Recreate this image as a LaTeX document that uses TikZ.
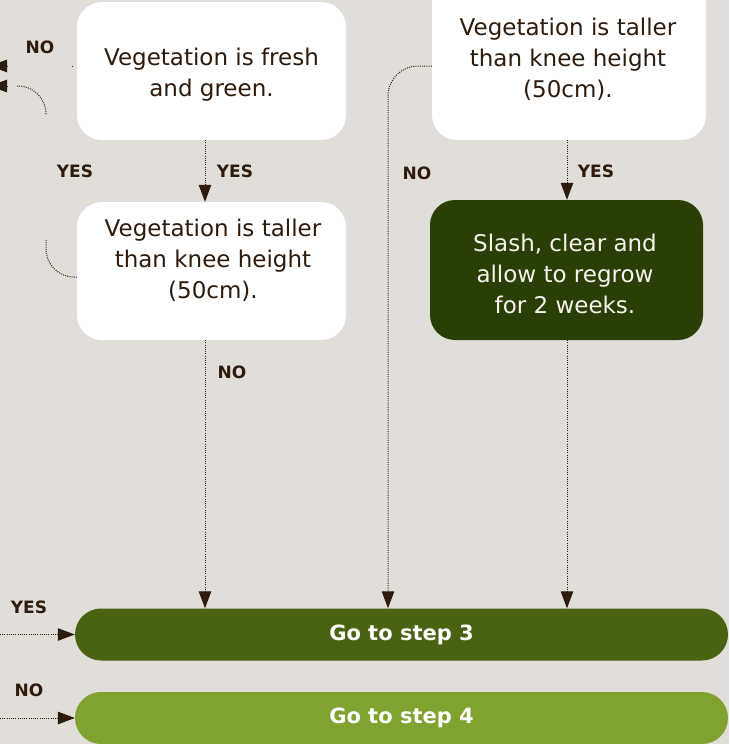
\documentclass[tikz,border=0pt]{standalone}
\usepackage{fontspec}
\setmainfont{DejaVu Sans}
\usetikzlibrary{arrows.meta}
\definecolor{bg}{HTML}{E1DDD9}
\definecolor{ink}{HTML}{2E1B0B}
\definecolor{darkgreen}{HTML}{2A3F05}
\definecolor{stepthree}{HTML}{4A6312}
\definecolor{stepfour}{HTML}{80A22E}
\definecolor{paletext}{HTML}{F4F2EC}
\tikzset{
  box/.style={rectangle, rounded corners=25pt, fill=white, inner sep=0pt},
  darkbox/.style={box, fill=darkgreen},
  boxtext/.style={align=center, text=ink, inner sep=0pt, font=\fontsize{23}{31}\selectfont},
  lbl/.style={text=ink, inner sep=0pt, font=\bfseries\fontsize{17}{17}\selectfont},
  bar/.style={rectangle, rounded corners=26pt, minimum width=653pt, minimum height=52pt, inner sep=0pt, text=white, font=\bfseries\fontsize{21}{21}\selectfont},
  dots/.style={draw=ink, line width=1pt, dash pattern=on 1pt off 1.2pt},
  flow/.style={dots, -{Triangle[width=12.5pt,length=17pt]}},
}
\begin{document}
\begin{tikzpicture}[x=1pt,y=-1pt]
\useasboundingbox (0,0) rectangle (729,744);
\clip (0,0) rectangle (729,744);
\fill[bg] (0,0) rectangle (729,744);

% boxes
\node[box, minimum width=269pt, minimum height=138pt] (boxA) at (211.5,71) {};
\node[boxtext] (txtA) at (211.5,75) {Vegetation is fresh\\and green.};
\node[box, minimum width=269pt, minimum height=138pt] (boxB) at (211.5,271) {};
\node[boxtext] (txtB) at (213,260) {Vegetation is taller\\than knee height\\(50cm).};
\node[box, minimum width=274pt, minimum height=170pt] (boxC) at (569,55) {};
\node[boxtext] (txtC) at (568,59) {Vegetation is taller\\than knee height\\(50cm).};
\node[darkbox, minimum width=273pt, minimum height=140pt] (boxD) at (566.5,270) {};
\node[boxtext, text=paletext] (txtD) at (565,274) {Slash, clear and\\allow to regrow\\for 2 weeks.};

% bars
\node[bar, fill=stepthree] (bar3) at (401.5,634.5) {Go to step 3};
\node[bar, fill=stepfour] (bar4) at (401.5,718) {Go to step 4};

% vertical connectors
\draw[flow] (boxA.south -| 205,0) -- (boxB.north -| 205,0);
\draw[flow] (boxB.south -| 205,0) -- (bar3.north -| 205,0);
\draw[flow] (boxC.south -| 567,0) -- (boxD.north -| 567,0);
\draw[flow] (boxD.south -| 567,0) -- (bar3.north -| 567,0);
\draw[flow, rounded corners=30pt] (boxC.west |- 0,66) -- (388,66) -- (bar3.north -| 388,0);

% left incoming connectors
\coordinate (in3) at (0,634.5);
\coordinate (in4) at (0,718);
\draw[flow] (in3) -- (bar3.west);
\draw[flow] (in4) -- (bar4.west);

% top-left outgoing connectors (partially shown)
\coordinate (outA) at (7,66);
\coordinate (outAend) at (-10,66);
\coordinate (outB) at (7,86);
\coordinate (outBend) at (-10,86);
\draw[flow] (outA) -- (outAend);
\draw[flow] (outB) -- (outBend);
\draw[dots] (boxA.west |- 0,66) ++(-4,0) -- ++(-2,0);
\coordinate (curveA) at (17,86);
\draw[dots, rounded corners=28pt] (curveA) -- (46,86) -- (46,113);
\coordinate (curveB) at (46,240);
\draw[dots, rounded corners=28pt] (curveB) -- (46,277) -- (boxB.west |- 0,277);

% labels
\node[lbl] (l1) at (40,47) {NO};
\node[lbl] (l2) at (75,171) {YES};
\node[lbl] (l3) at (235,171) {YES};
\node[lbl] (l4) at (417,173) {NO};
\node[lbl] (l5) at (596,171) {YES};
\node[lbl] (l6) at (232,372) {NO};
\node[lbl] (l7) at (29,607) {YES};
\node[lbl] (l8) at (29,690) {NO};
\end{tikzpicture}
\end{document}
